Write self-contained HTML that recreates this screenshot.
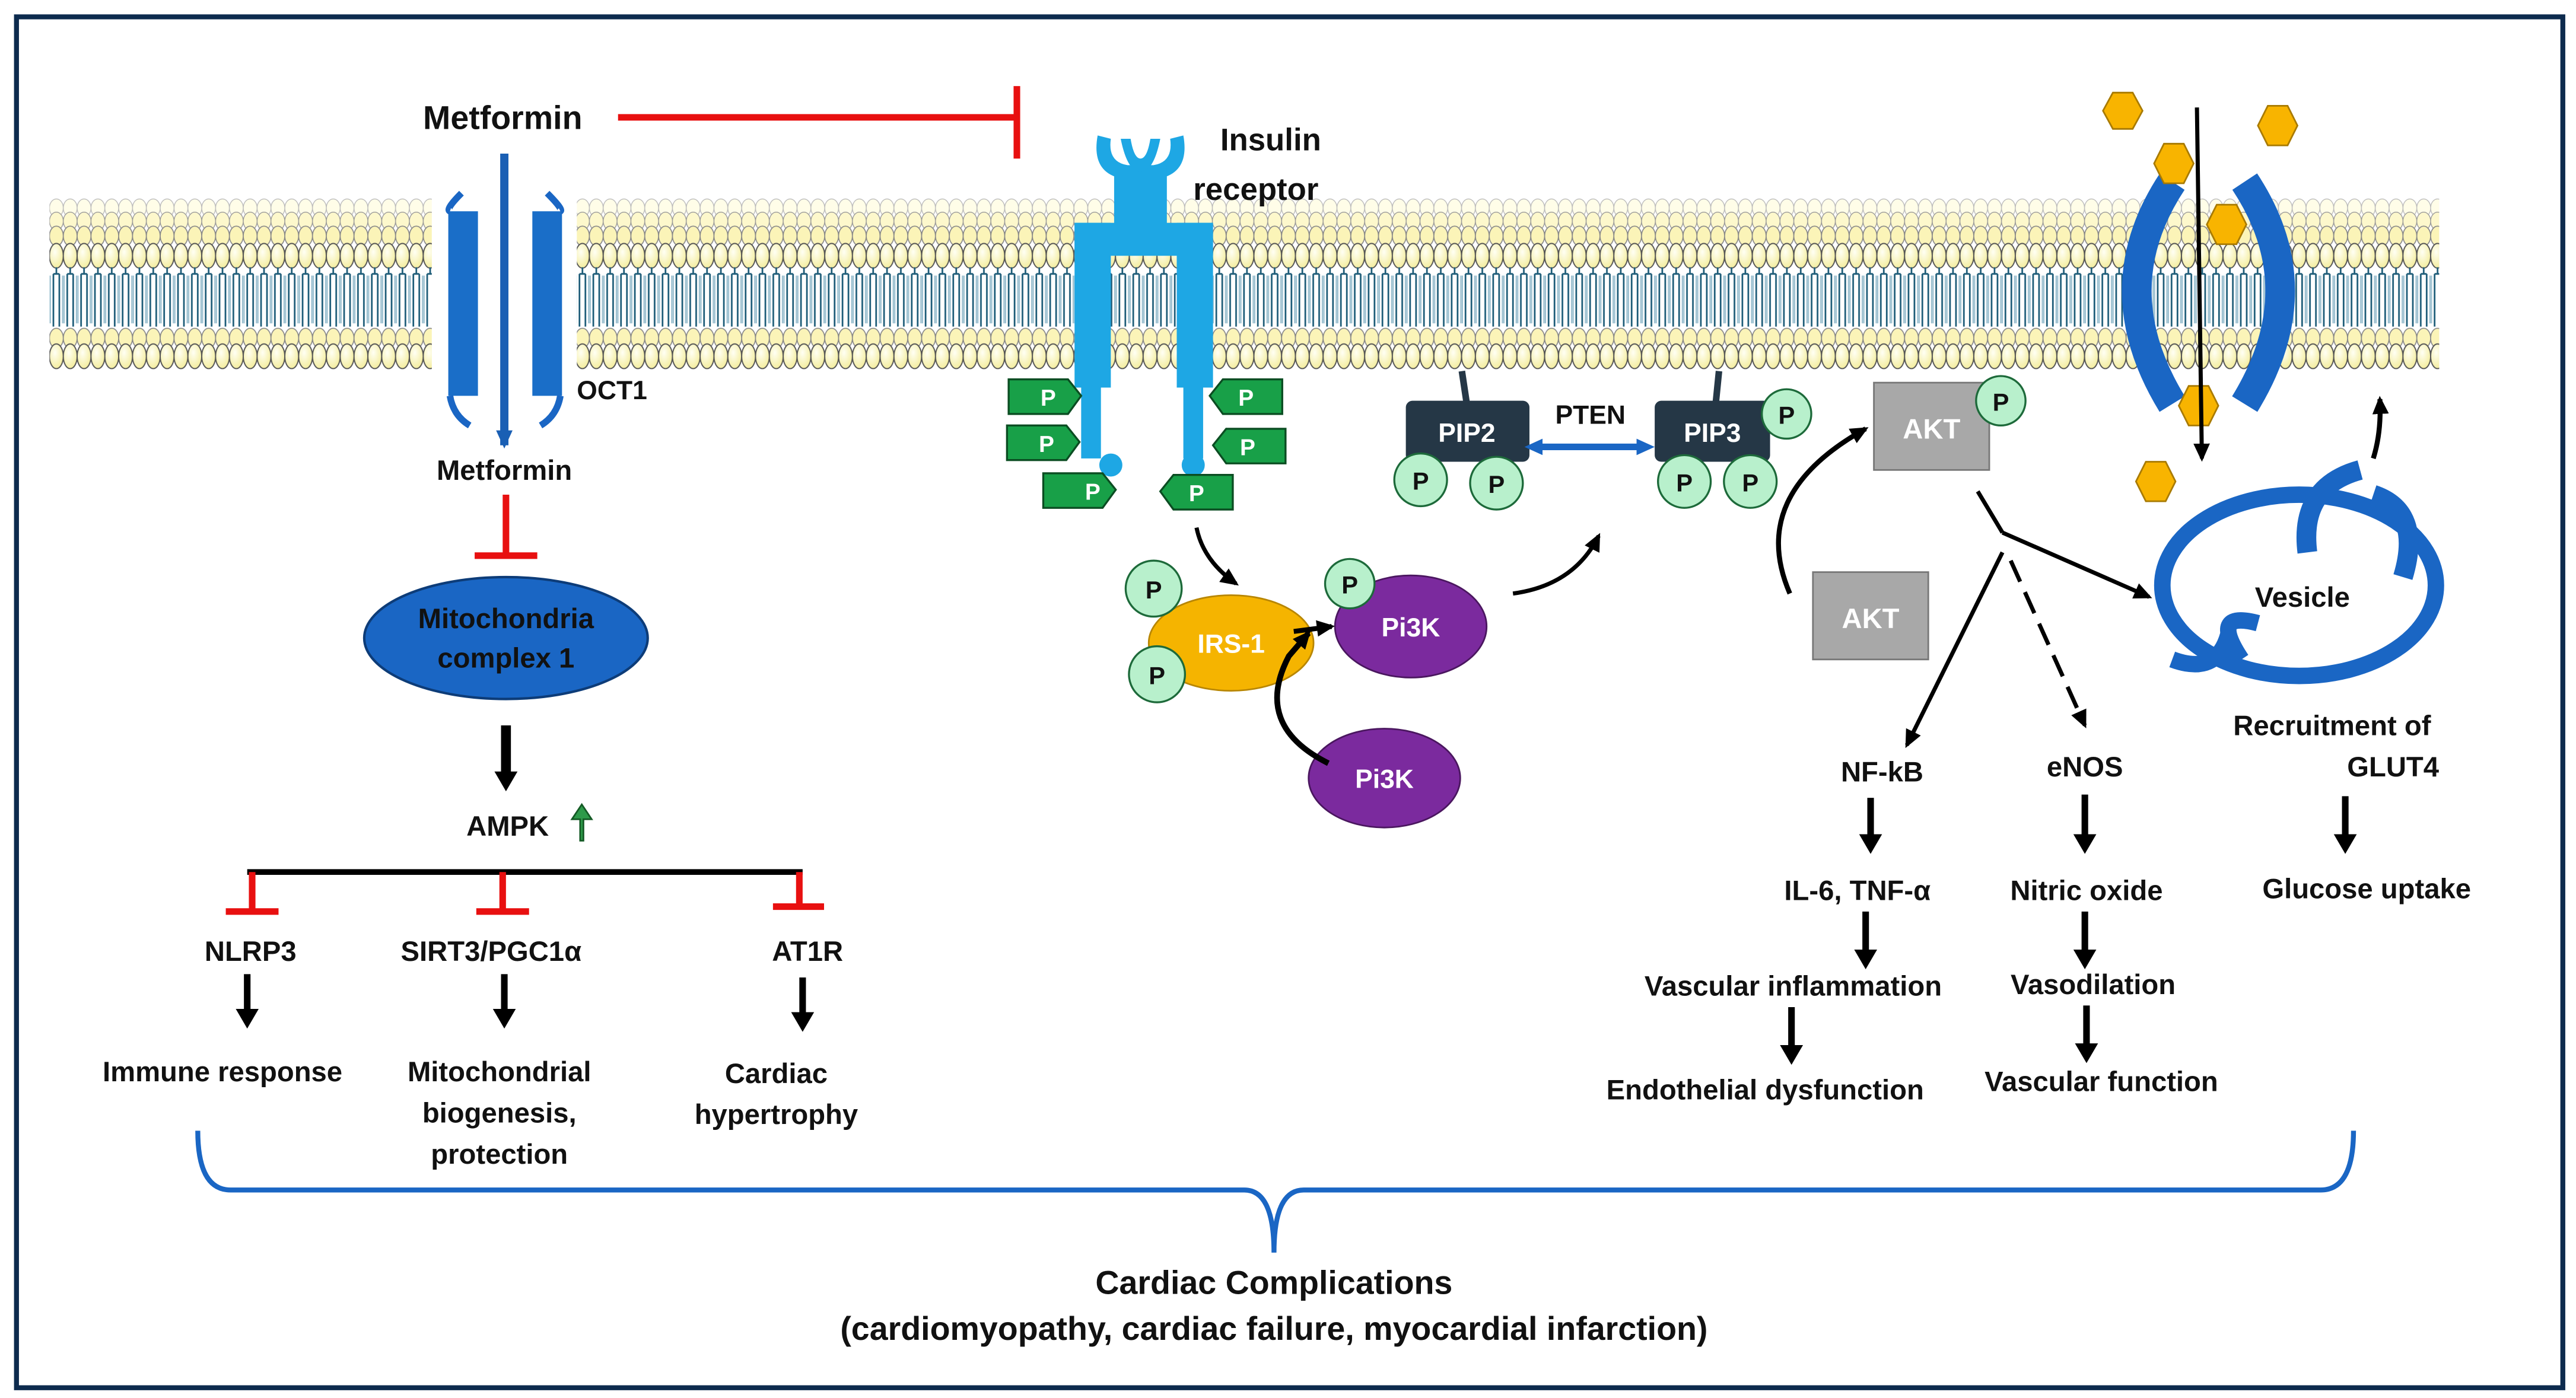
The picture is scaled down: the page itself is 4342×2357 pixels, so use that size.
<!DOCTYPE html>
<html><head><meta charset="utf-8"><style>
html,body{margin:0;padding:0;background:#fff}
svg{display:block}
text{font-family:"Liberation Sans",sans-serif;font-weight:bold;fill:#111}
</style></head><body>
<svg width="4342" height="2357" viewBox="0 0 1563 848" xmlns="http://www.w3.org/2000/svg">
<defs>
<radialGradient id="hg" cx="0.4" cy="0.35" r="0.7"><stop offset="0" stop-color="#fffff4"/><stop offset="1" stop-color="#f3ec9a"/></radialGradient>
<pattern id="mem" patternUnits="userSpaceOnUse" x="30" y="120" width="8.4" height="105">
<ellipse cx="4.2" cy="6" rx="4.2" ry="5.5" fill="#fffde8" stroke="#bbb" stroke-width="0.5"/>
<ellipse cx="4.2" cy="14" rx="4.2" ry="5.5" fill="#fdf8cc" stroke="#999" stroke-width="0.5"/>
<ellipse cx="4.2" cy="23" rx="4.2" ry="6" fill="#fbf4b8" stroke="#888" stroke-width="0.6"/>
<ellipse cx="4.2" cy="35" rx="4.2" ry="7.5" fill="url(#hg)" stroke="#555" stroke-width="0.7"/>
<path d="M4.2 42 V46 M2.4 46 V78 M6 46 V78 M2.4 46 H6" stroke="#1d5c78" stroke-width="1" fill="none"/>
<path d="M0.5 47 V76 M8 47 V76" stroke="#9cc0d0" stroke-width="0.8" fill="none"/>
<ellipse cx="4.2" cy="85" rx="4.2" ry="6" fill="#fbf4b8" stroke="#888" stroke-width="0.6"/>
<ellipse cx="4.2" cy="96" rx="4.2" ry="7.5" fill="url(#hg)" stroke="#555" stroke-width="0.7"/>
</pattern>
<marker id="ab" markerWidth="12" markerHeight="12" refX="9" refY="6" orient="auto" markerUnits="userSpaceOnUse"><path d="M0,1 L11,6 L0,11 z" fill="#000"/></marker>
<marker id="ab2" markerWidth="16" markerHeight="14" refX="6" refY="7" orient="auto" markerUnits="userSpaceOnUse"><path d="M0,0 L12,7 L0,14 z" fill="#000"/></marker>
<marker id="abl" markerWidth="12" markerHeight="12" refX="9" refY="6" orient="auto" markerUnits="userSpaceOnUse"><path d="M0,1 L11,6 L0,11 z" fill="#1a5fb4"/></marker>
<marker id="abls" markerWidth="12" markerHeight="12" refX="4" refY="6" orient="auto-start-reverse" markerUnits="userSpaceOnUse"><path d="M0,1 L11,6 L0,11 z" fill="#1a66c4"/></marker>
</defs>
<rect x="10" y="10" width="1545" height="832" fill="#fff" stroke="#0d2b4e" stroke-width="3"/>
<rect x="30" y="120" width="1450" height="105" fill="url(#mem)"/>
<!-- OCT1 -->
<rect x="262" y="100" width="88" height="150" fill="#fff"/>
<rect x="272" y="128" width="18" height="112" fill="#1a6ec8"/>
<rect x="323" y="128" width="18" height="112" fill="#1a6ec8"/>
<path d="M280 117 Q270 127 273 128 M332 117 Q342 127 340 128 M273 240 Q275 252 285 258 M340 240 Q338 252 328 258" stroke="#1a66c4" stroke-width="4" fill="none"/>
<line x1="306" y1="93" x2="306" y2="270" stroke="#1a5fb4" stroke-width="5" marker-end="url(#abl)"/>
<text x="350" y="242" font-size="16">OCT1</text>
<text x="305" y="78" font-size="20" text-anchor="middle">Metformin</text>
<line x1="375" y1="71" x2="617" y2="71" stroke="#e81010" stroke-width="4"/>
<line x1="617" y1="52" x2="617" y2="96" stroke="#e81010" stroke-width="4"/>
<text x="306" y="291" font-size="17" text-anchor="middle">Metformin</text>
<line x1="307" y1="300" x2="307" y2="337" stroke="#e81010" stroke-width="4"/>
<line x1="288" y1="337" x2="326" y2="337" stroke="#e81010" stroke-width="4"/>
<ellipse cx="307" cy="387" rx="86" ry="37" fill="#1a66c4" stroke="#0d3c78" stroke-width="1.5"/>
<text x="307" y="381" font-size="17" text-anchor="middle">Mitochondria</text>
<text x="307" y="405" font-size="17" text-anchor="middle">complex 1</text>
<line x1="307" y1="440" x2="307" y2="474" stroke="#000" stroke-width="6" marker-end="url(#ab2)"/>
<text x="308" y="507" font-size="17" text-anchor="middle">AMPK</text>
<path d="M352 510 V497 H347 L353 488 L359 497 H354 V510 z" fill="#2e9a4a" stroke="#145a25" stroke-width="1"/>
<line x1="150" y1="529" x2="487" y2="529" stroke="#000" stroke-width="3.5"/>
<g stroke="#e81010" stroke-width="4">
<line x1="153" y1="529" x2="153" y2="553"/><line x1="137" y1="553" x2="169" y2="553"/>
<line x1="305" y1="529" x2="305" y2="553"/><line x1="289" y1="553" x2="321" y2="553"/>
<line x1="485" y1="529" x2="485" y2="550"/><line x1="469" y1="550" x2="500" y2="550"/>
</g>
<text x="152" y="583" font-size="17" text-anchor="middle">NLRP3</text>
<text x="298" y="583" font-size="17" text-anchor="middle">SIRT3/PGC1α</text>
<text x="490" y="583" font-size="17" text-anchor="middle">AT1R</text>
<g stroke="#000" stroke-width="4">
<line x1="150" y1="591" x2="150" y2="618" marker-end="url(#ab2)"/>
<line x1="306" y1="591" x2="306" y2="618" marker-end="url(#ab2)"/>
<line x1="487" y1="593" x2="487" y2="620" marker-end="url(#ab2)"/>
</g>
<text x="135" y="656" font-size="17" text-anchor="middle">Immune response</text>
<text x="303" y="656" font-size="17" text-anchor="middle">Mitochondrial</text>
<text x="303" y="681" font-size="17" text-anchor="middle">biogenesis,</text>
<text x="303" y="706" font-size="17" text-anchor="middle">protection</text>
<text x="471" y="657" font-size="17" text-anchor="middle">Cardiac</text>
<text x="471" y="682" font-size="17" text-anchor="middle">hypertrophy</text>
<path d="M120 686 Q120 722 140 722 L755 722 Q773 722 773 760 Q773 722 791 722 L1408 722 Q1428 722 1428 686" stroke="#1a66c4" stroke-width="3" fill="none"/>
<text x="773" y="785" font-size="20" text-anchor="middle">Cardiac Complications</text>
<text x="773" y="813" font-size="20" text-anchor="middle">(cardiomyopathy, cardiac failure, myocardial infarction)</text>
<!-- insulin receptor -->
<g fill="#1ea7e4">
<path d="M666 82 Q662 104 680 108 L684 100 Q672 98 674 84 z"/>
<path d="M718 82 Q722 104 704 108 L700 100 Q712 98 710 84 z"/>
<rect x="676" y="100" width="32" height="40"/>
<path d="M680 84 Q684 104 692 104 Q700 104 704 84 L698 84 Q696 96 692 96 Q688 96 686 84z"/>
<rect x="652" y="135" width="22" height="100"/>
<rect x="714" y="135" width="22" height="100"/>
<rect x="652" y="135" width="84" height="20"/>
<rect x="656" y="230" width="12" height="48"/>
<rect x="718" y="230" width="12" height="48"/>
<circle cx="674" cy="282" r="7"/><circle cx="724" cy="282" r="7"/>
</g>
<text x="771" y="91" font-size="19" text-anchor="middle">Insulin</text>
<text x="762" y="121" font-size="19" text-anchor="middle">receptor</text>
<g fill="#18a048" stroke="#0b4d22" stroke-width="1.2">
<path d="M612 230 H648 L656 240 L648 251 H612 z"/>
<path d="M611 258 H647 L655 268 L647 279 H611 z"/>
<path d="M633 287 H669 L677 297 L669 308 H633 z"/>
<path d="M778 230 H742 L734 240 L742 251 H778 z"/>
<path d="M780 260 H744 L736 270 L744 281 H780 z"/>
<path d="M748 288 H712 L704 298 L712 309 H748 z"/>
</g>
<g font-size="14" text-anchor="middle">
<text x="636" y="246" style="fill:#fff">P</text><text x="635" y="274" style="fill:#fff">P</text><text x="663" y="303" style="fill:#fff">P</text>
<text x="756" y="246" style="fill:#fff">P</text><text x="757" y="276" style="fill:#fff">P</text><text x="726" y="304" style="fill:#fff">P</text>
</g>
<path d="M726 320 Q730 340 750 354" stroke="#000" stroke-width="2.5" fill="none" marker-end="url(#ab)"/>
<ellipse cx="747" cy="390" rx="50" ry="29" fill="#f5b400" stroke="#b88600" stroke-width="1"/>
<text x="747" y="396" font-size="16" text-anchor="middle" style="fill:#fff">IRS-1</text>
<ellipse cx="856" cy="380" rx="46" ry="31" fill="#7b2a9e" stroke="#4a165f"/>
<text x="856" y="386" font-size="16" text-anchor="middle" style="fill:#fff">Pi3K</text>
<ellipse cx="840" cy="472" rx="46" ry="30" fill="#7b2a9e" stroke="#4a165f"/>
<text x="840" y="478" font-size="16" text-anchor="middle" style="fill:#fff">Pi3K</text>
<path d="M785 383 L808 380" stroke="#000" stroke-width="3" marker-end="url(#ab)"/>
<path d="M806 463 Q760 440 782 398 L794 384" stroke="#000" stroke-width="3.5" fill="none" marker-end="url(#ab)"/>
<path d="M918 360 Q955 355 970 325" stroke="#000" stroke-width="2.5" fill="none" marker-end="url(#ab)"/>
<line x1="887" y1="225" x2="890" y2="245" stroke="#253746" stroke-width="4"/>
<rect x="853" y="243" width="75" height="37" rx="4" fill="#253746"/>
<text x="890" y="268" font-size="16" text-anchor="middle" style="fill:#fff">PIP2</text>
<line x1="1043" y1="225" x2="1041" y2="245" stroke="#253746" stroke-width="4"/>
<rect x="1004" y="243" width="70" height="37" rx="4" fill="#253746"/>
<text x="1039" y="268" font-size="16" text-anchor="middle" style="fill:#fff">PIP3</text>
<text x="965" y="257" font-size="16" text-anchor="middle">PTEN</text>
<line x1="932" y1="271" x2="997" y2="271" stroke="#1a66c4" stroke-width="4" marker-start="url(#abls)" marker-end="url(#abls)"/>
<rect x="1137" y="232" width="70" height="53" fill="#a8a8a8" stroke="#777"/>
<text x="1172" y="266" font-size="17" text-anchor="middle" style="fill:#fff">AKT</text>
<rect x="1100" y="347" width="70" height="53" fill="#a8a8a8" stroke="#777"/>
<text x="1135" y="381" font-size="17" text-anchor="middle" style="fill:#fff">AKT</text>
<g fill="#b8f0cc" stroke="#1d6a3a" stroke-width="1.2">
<circle cx="700" cy="357" r="17"/><circle cx="702" cy="409" r="17"/><circle cx="819" cy="354" r="15"/>
<circle cx="862" cy="291" r="16"/><circle cx="908" cy="293" r="16"/>
<circle cx="1022" cy="292" r="16"/><circle cx="1062" cy="292" r="16"/><circle cx="1084" cy="251" r="15"/>
<circle cx="1214" cy="243" r="15"/>
</g>
<g font-size="15" text-anchor="middle">
<text x="700" y="363">P</text><text x="702" y="415">P</text><text x="819" y="360">P</text>
<text x="862" y="297">P</text><text x="908" y="299">P</text>
<text x="1022" y="298">P</text><text x="1062" y="298">P</text><text x="1084" y="257">P</text><text x="1214" y="249">P</text>
</g>
<path d="M1086 360 Q1060 300 1132 260" stroke="#000" stroke-width="3" fill="none" marker-end="url(#ab)"/>
<line x1="1200" y1="298" x2="1215" y2="323" stroke="#000" stroke-width="2.5"/>
<line x1="1215" y1="323" x2="1304" y2="362" stroke="#000" stroke-width="2.5" marker-end="url(#ab)"/>
<line x1="1215" y1="335" x2="1157" y2="452" stroke="#000" stroke-width="2.5" marker-end="url(#ab)"/>
<line x1="1220" y1="340" x2="1265" y2="440" stroke="#000" stroke-width="2.5" stroke-dasharray="14 7" marker-end="url(#ab)"/>
<text x="1142" y="474" font-size="17" text-anchor="middle">NF-kB</text>
<text x="1265" y="471" font-size="17" text-anchor="middle">eNOS</text>
<g stroke="#000" stroke-width="4">
<line x1="1135" y1="484" x2="1135" y2="512" marker-end="url(#ab2)"/>
<line x1="1265" y1="482" x2="1265" y2="512" marker-end="url(#ab2)"/>
<line x1="1132" y1="553" x2="1132" y2="582" marker-end="url(#ab2)"/>
<line x1="1265" y1="553" x2="1265" y2="582" marker-end="url(#ab2)"/>
<line x1="1087" y1="611" x2="1087" y2="640" marker-end="url(#ab2)"/>
<line x1="1266" y1="610" x2="1266" y2="639" marker-end="url(#ab2)"/>
<line x1="1423" y1="483" x2="1423" y2="512" marker-end="url(#ab2)"/>
</g>
<text x="1127" y="546" font-size="17" text-anchor="middle">IL-6, TNF-α</text>
<text x="1266" y="546" font-size="17" text-anchor="middle">Nitric oxide</text>
<text x="1088" y="604" font-size="17" text-anchor="middle">Vascular inflammation</text>
<text x="1270" y="603" font-size="17" text-anchor="middle">Vasodilation</text>
<text x="1071" y="667" font-size="17" text-anchor="middle">Endothelial dysfunction</text>
<text x="1275" y="662" font-size="17" text-anchor="middle">Vascular function</text>
<!-- GLUT -->
<path d="M1318 110 Q1275 175 1318 245" stroke="#1a66c4" stroke-width="18" fill="none"/>
<path d="M1362 110 Q1405 175 1362 245" stroke="#1a66c4" stroke-width="18" fill="none"/>
<g fill="#f8b400" stroke="#a87a00" stroke-width="1">
<polygon points="1282,56 1294,56 1300,67 1294,78 1282,78 1276,67"/>
<polygon points="1376,64 1388,64 1394,76 1388,88 1376,88 1370,76"/>
<polygon points="1313,87 1325,87 1331,99 1325,111 1313,111 1307,99"/>
<polygon points="1345,124 1357,124 1363,136 1357,148 1345,148 1339,136"/>
<polygon points="1328,234 1340,234 1346,246 1340,258 1328,258 1322,246"/>
<polygon points="1302,280 1314,280 1320,292 1314,304 1302,304 1296,292"/>
</g>
<line x1="1333" y1="65" x2="1336" y2="278" stroke="#000" stroke-width="2.5" marker-end="url(#ab)"/>
<ellipse cx="1395" cy="355" rx="83" ry="55" fill="none" stroke="#1a66c4" stroke-width="10"/>
<path d="M1400 335 Q1395 295 1432 285" stroke="#1a66c4" stroke-width="12" fill="none"/>
<path d="M1440 300 Q1470 310 1458 350" stroke="#1a66c4" stroke-width="12" fill="none"/>
<path d="M1360 400 Q1340 370 1370 378" stroke="#1a66c4" stroke-width="10" fill="none"/>
<path d="M1318 400 Q1345 410 1352 385" stroke="#1a66c4" stroke-width="10" fill="none"/>
<text x="1397" y="368" font-size="17" text-anchor="middle">Vesicle</text>
<path d="M1440 278 Q1445 262 1444 242" stroke="#000" stroke-width="3" fill="none" marker-end="url(#ab)"/>
<text x="1415" y="446" font-size="17" text-anchor="middle">Recruitment of</text>
<text x="1452" y="471" font-size="17" text-anchor="middle">GLUT4</text>
<text x="1436" y="545" font-size="17" text-anchor="middle">Glucose uptake</text>
</svg>
</body></html>
